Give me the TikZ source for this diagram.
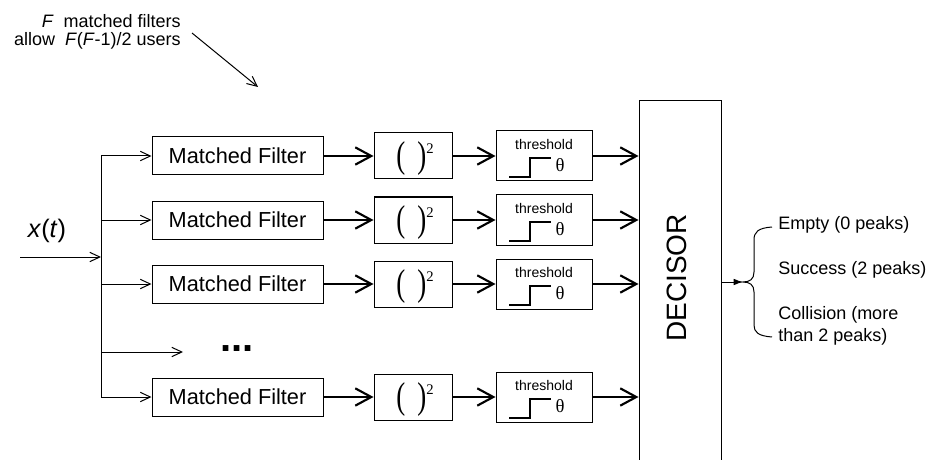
\documentclass[tikz,border=0pt]{standalone}
\usepackage{fontspec}
\setmainfont{Liberation Sans}
\newfontfamily\serifft{Liberation Serif}
\usetikzlibrary{arrows.meta,calc}
\begin{document}
\begin{tikzpicture}[x=0.75pt,y=-0.75pt,
  thinln/.style={line width=0.75pt},
  tharr/.style={line width=0.75pt,-{Straight Barb[length=7.5pt,width=7pt]}},
  tkarr/.style={line width=1.6pt,-{Straight Barb[length=12pt,width=13pt]}},
  mfbox/.style={draw,line width=0.75pt,minimum width=128.25pt,minimum height=28.5pt,inner sep=0pt,font=\fontsize{16.3}{19}\selectfont},
  sqbox/.style={draw,line width=0.75pt,minimum width=58.5pt,minimum height=34.5pt,inner sep=0pt},
  thbox/.style={draw,line width=0.75pt,minimum width=72pt,minimum height=37.5pt,inner sep=0pt},
  lbl/.style={inner sep=0pt,font=\fontsize{13.5}{16.5}\selectfont}]
\useasboundingbox (0,0) rectangle (933,460);

% top annotation
\node[inner sep=0pt,font=\fontsize{13.5}{13.5}\selectfont,align=right,anchor=east] (ann) at (181,32) {\textit{F}~ matched filters\\allow~ \textit{F}(\textit{F}-1)/2 users};
\coordinate (annS) at (192,33);
\coordinate (annE) at (258,87);
\draw[tharr] (annS) -- (annE);

% decisor
\node[draw,line width=0.75pt,minimum width=61.5pt,minimum height=272.25pt,inner sep=0pt] (dec) at (680,282.5) {};
\node[rotate=90,inner sep=0pt,font=\fontsize{21}{21}\selectfont] (declab) at (677,278) {DECISOR};

% input
\node[inner sep=0pt,font=\fontsize{19}{19}\selectfont] (xt) at (47,231) {\textit{x}(\textit{t})};
\coordinate (xin) at (20,257);
\coordinate (split) at (101,257);
\draw[tharr] (xin) -- (split);
\coordinate (bus1) at (101,156);
\coordinate (bus5) at (101,397);
\draw[thinln] (bus1) -- (bus5);

% dots row
\coordinate (bus4) at (101,352);
\coordinate (dotend) at (183,352);
\draw[tharr] (bus4) -- (dotend);
\node[inner sep=0pt,font=\fontsize{30}{30}\selectfont\bfseries] (dots) at (237,349) {...};

\foreach \i/\y in {1/156,2/220,3/284,5/397}{
  \coordinate (bus\i) at (101,\y);
  \node[mfbox] (mf\i) at (237.5,\y) {Matched Filter};
  \node[sqbox] (sq\i) at (413,\y) {};
  \node[inner sep=0pt] (sqt\i) at ([shift={(2,2.5)}]sq\i.center) {{\serifft\fontsize{28}{28}\selectfont\scalebox{0.72}[1]{(}\hspace{9pt}\scalebox{0.72}[1]{)}}{\serifft\fontsize{11}{11}\selectfont\raisebox{10.5pt}{2}}};
  \node[thbox] (th\i) at (544,\y) {};
  \node[inner sep=0pt,font=\fontsize{10.5}{12}\selectfont] (tl\i) at ([shift={(0,-12)}]th\i.center) {threshold};
  \node[inner sep=0pt,font=\serifft\fontsize{14}{14}\selectfont] (tt\i) at ([shift={(16,9)}]th\i.center) {θ};
  \draw[line width=1.5pt] ([shift={(-35,21)}]th\i.center) -| ([shift={(-14,2)}]th\i.center) -- ([shift={(7,2)}]th\i.center);
  \draw[tharr] (bus\i) -- (mf\i.west);
  \draw[tkarr] (mf\i) -- (sq\i);
  \draw[tkarr] (sq\i) -- (th\i);
  \draw[tkarr] (th\i.east) -- (th\i.east -| dec.west);
}

% output
\coordinate (brtip) at (743,282);
\draw[line width=0.75pt,-{Latex[length=7pt,width=5pt]}] (dec.east |- brtip) -- (brtip);
\draw[thinln] (772,227) .. controls (758,228) and (754,232) .. (754,240) -- (754,272)
  .. controls (754,279) and (750,282) .. (brtip)
  .. controls (750,282) and (754,285) .. (754,292) -- (754,325)
  .. controls (754,332) and (758,336) .. (772,337);
\node[lbl,anchor=west] (o1) at (778,225) {Empty (0 peaks)};
\node[lbl,anchor=west] (o2) at (778,270) {Success (2 peaks)};
\node[lbl,anchor=west,align=left] (o3) at (778,326) {Collision (more\\than 2 peaks)};
\end{tikzpicture}
\end{document}
